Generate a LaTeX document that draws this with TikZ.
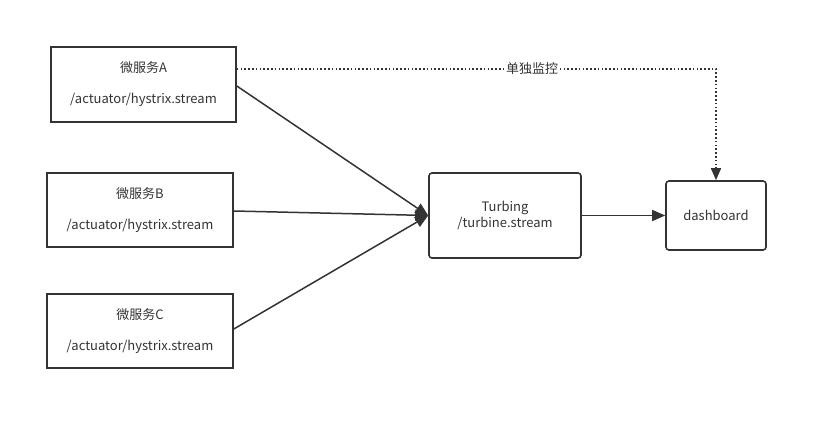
\documentclass[tikz,border=0pt]{standalone}
\usepackage{fontspec}
\setmainfont{Noto Sans CJK SC}
\usetikzlibrary{arrows.meta}
\definecolor{ink}{HTML}{333333}
\begin{document}
\begin{tikzpicture}[x=1pt,y=-1pt,
  box/.style={draw=ink,line width=1.6pt,inner sep=0pt,align=center,font=\fontsize{13}{31}\selectfont,text=ink},
  rbox/.style={box,rounded corners=3pt},
  link/.style={draw=ink,line width=1.5pt,-{Triangle[length=13pt,width=11pt]}},
  dotlink/.style={draw=ink,line width=1.6pt,dash pattern=on 1.6pt off 2.2pt,-{Triangle[length=12pt,width=10pt]}}]
\useasboundingbox (0,0) rectangle (828,430);
\node[box,minimum width=185pt,minimum height=75pt] (a) at (143.5,84.5) {微服务A\\/actuator/hystrix.stream};
\node[box,minimum width=186pt,minimum height=74pt] (b) at (140,210) {微服务B\\/actuator/hystrix.stream};
\node[box,minimum width=186pt,minimum height=74pt] (c) at (140,331) {微服务C\\/actuator/hystrix.stream};
\node[rbox,minimum width=152pt,minimum height=85pt,font=\fontsize{13}{16}\selectfont] (t) at (505,215.5) {Turbing\\/turbine.stream};
\node[rbox,minimum width=100pt,minimum height=69pt] (d) at (716,215.5) {dashboard};
\coordinate (k) at (716,69);
\draw[link] ([yshift=-1.5pt]a.east) -- (t.west);
\draw[link] ([yshift=-1pt]b.east) -- (t.west);
\draw[link] ([yshift=2pt]c.east) -- (t.west);
\draw[link] (t.east) -- (d.west);
\draw[dotlink] ([yshift=15.5pt]a.east) -- (k) -- (d.north);
\node[fill=white,inner sep=1.5pt,font=\fontsize{13}{16}\selectfont,text=ink] (l) at (532,69) {单独监控};
\end{tikzpicture}
\end{document}
